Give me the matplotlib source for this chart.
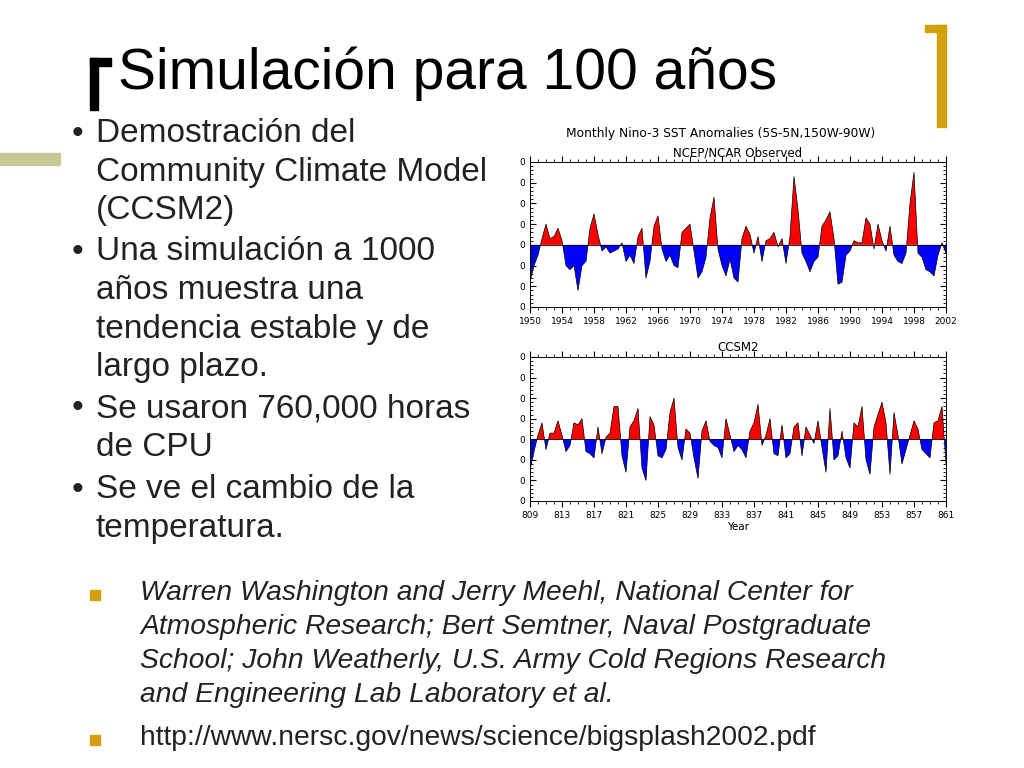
import numpy as np
import matplotlib
matplotlib.use("Agg")
import matplotlib.pyplot as plt
from matplotlib.patches import Rectangle
from matplotlib.ticker import MultipleLocator

obs_start = 1950
obs_vals = [-1.8,-1.0,-0.5,0.3,1.0,0.3,0.4,0.8,0.2,-1.0,-1.2,-1.0,-2.2,-1.0,-0.8,0.8,
            1.5,0.5,-0.3,-0.1,-0.4,-0.3,-0.2,0.1,-0.8,-0.5,-0.9,0.4,0.8,-1.6,-0.8,0.9,
            1.4,-0.2,-0.8,-0.5,-1.0,-1.1,0.6,0.8,1.0,-0.3,-1.6,-1.3,-0.6,1.3,2.3,-0.2,
            -1.0,-1.5,-0.7,-1.6,-1.8,0.3,0.9,0.5,-0.4,0.4,-0.8,0.2,0.3,0.6,-0.1,0.3,
            -0.9,0.4,3.3,1.7,-0.4,-0.8,-1.3,-0.8,-0.6,0.9,1.2,1.6,0.3,-1.9,-1.8,-0.5,
            -0.3,0.2,0.1,0.1,1.3,1.0,-0.2,1.0,0.2,-0.3,0.9,-0.5,-0.8,-0.9,-0.4,2.0,
            3.5,-0.4,-0.6,-1.2,-1.3,-1.5,-0.5,0.1,-0.4]
sim_start = 809
sim_vals = [-1.5,-0.6,0.2,0.8,-0.5,0.3,0.3,0.9,0.2,-0.6,-0.3,0.8,0.7,1.0,-0.6,-0.7,
            -0.9,0.6,-0.7,0.1,0.3,1.6,1.6,-0.8,-1.6,0.6,0.9,1.5,-1.4,-2.0,1.1,0.7,
            -0.8,-0.9,-0.5,1.3,2.0,-0.4,-1.0,0.5,0.3,-0.9,-1.9,0.4,0.9,-0.1,-0.3,-0.4,
            -0.9,1.0,0.2,-0.6,-0.3,-0.5,-0.9,0.4,0.8,1.7,-0.3,0.2,1.0,-0.7,-0.8,0.7,
            -0.9,-0.7,0.6,0.8,-0.8,0.6,0.2,-0.2,0.9,-0.4,-1.6,1.5,-1.0,-0.8,0.4,-0.9,
            -1.4,0.8,0.6,1.6,-1.0,-1.7,0.6,1.2,1.8,0.8,-1.7,1.3,0.2,-1.2,-0.5,0.2,
            0.9,0.5,-0.5,-0.7,-0.9,0.8,0.9,1.6,-1.2]

fig = plt.figure(figsize=(10.24, 7.68), dpi=100)
W, H = 1024, 768
def fx(x): return x / W
def fy(y): return 1 - y / H

# decorations
fig.patches.append(Rectangle((fx(90), fy(110)), 8/W, 52/H, transform=fig.transFigure, color='black'))
fig.patches.append(Rectangle((fx(90), fy(66)), 21/W, 8/H, transform=fig.transFigure, color='black'))
fig.patches.append(Rectangle((fx(937), fy(127)), 9/W, 102/H, transform=fig.transFigure, color='#d4a010'))
fig.patches.append(Rectangle((fx(925), fy(32)), 21/W, 7/H, transform=fig.transFigure, color='#d4a010'))
fig.patches.append(Rectangle((0, fy(165)), 60/W, 12/H, transform=fig.transFigure, color='#c8c896'))

font = 'Liberation Sans'
fig.text(fx(118), fy(74), 'Simulación para 100 años', fontsize=41, family=font, va='center')

bullets = [(134, ['Demostración del', 'Community Climate Model', '(CCSM2)']),
           (252, ['Una simulación a 1000', 'años muestra una', 'tendencia estable y de', 'largo plazo.']),
           (409, ['Se usaron 760,000 horas', 'de CPU']),
           (490, ['Se ve el cambio de la', 'temperatura.'])]
for y0, lines in bullets:
    fig.text(fx(72), fy(y0), '•', fontsize=24, family=font, va='center', color='#222222')
    for i, l in enumerate(lines):
        fig.text(fx(96), fy(y0 + i * 38.5), l, fontsize=24, family=font, va='center', color='#222222')

cite = ['Warren Washington and Jerry Meehl, National Center for',
        'Atmospheric Research; Bert Semtner, Naval Postgraduate',
        'School; John Weatherly, U.S. Army Cold Regions Research',
        'and Engineering Lab Laboratory et al.']
for i, l in enumerate(cite):
    fig.text(fx(140), fy(593 + i * 34), l, fontsize=20.3, family=font, style='italic', va='center', color='#222222')
fig.text(fx(140), fy(738), 'http://www.nersc.gov/news/science/bigsplash2002.pdf', fontsize=20.3, family=font, va='center', color='#222222')
for y in (595, 740):
    fig.patches.append(Rectangle((fx(90), fy(y + 5)), 10/W, 10/H, transform=fig.transFigure, color='#d4a010'))

def panel(rect, start, vals, sub, xlabel=None):
    ax = fig.add_axes(rect)
    x = start + np.arange(len(vals)) * 0.5
    v = np.array(vals)
    ax.fill_between(x, v, 0, where=v > 0, interpolate=True, color='red', lw=0)
    ax.fill_between(x, v, 0, where=v < 0, interpolate=True, color='blue', lw=0)
    ax.plot(x, v, color='black', lw=0.5)
    ax.axhline(0, color='black', lw=0.6)
    ax.set_xlim(start, start + 52)
    ax.set_ylim(-3, 4)
    ax.set_xticks(np.arange(start, start + 53, 4))
    ax.xaxis.set_minor_locator(MultipleLocator(1))
    ax.yaxis.set_minor_locator(MultipleLocator(0.2))
    ax.set_yticks(np.arange(-3, 5))
    ax.set_yticklabels(['0'] * 8)
    ax.tick_params(which='both', direction='in', top=True, right=True, labelsize=6.5, length=4)
    ax.tick_params(which='minor', length=2)
    ax.tick_params(axis='x', direction='out', which='both')
    ax.set_title(sub, fontsize=8.5, pad=4)
    if xlabel:
        ax.set_xlabel(xlabel, fontsize=7.5, labelpad=1)
    for s in ax.spines.values():
        s.set_linewidth(0.7)
    return ax

panel([fx(530), fy(307), 416/W, 145/H], obs_start, obs_vals, 'NCEP/NCAR Observed')
fig.text(fx(721), fy(133), 'Monthly Nino-3 SST Anomalies (5S-5N,150W-90W)', fontsize=8.8, ha='center', va='center')
panel([fx(530), fy(501), 416/W, 144/H], sim_start, sim_vals, 'CCSM2', xlabel='Year')

fig.savefig('out.png', dpi=100)
